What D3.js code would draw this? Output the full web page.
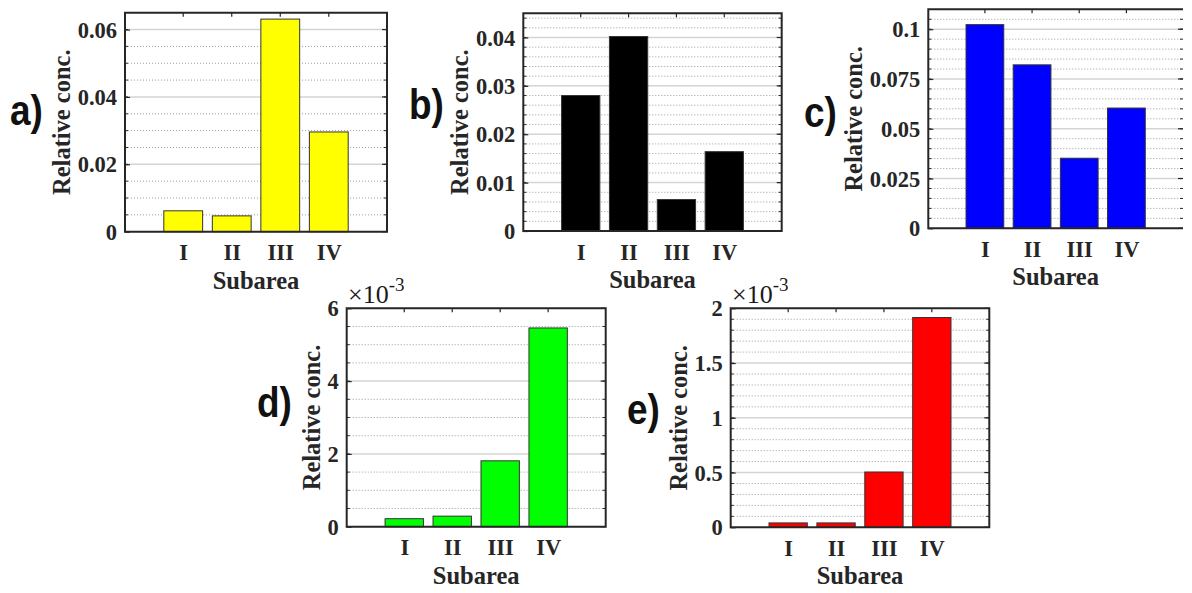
<!DOCTYPE html>
<html>
<head>
<meta charset="utf-8">
<script src="https://cdn.jsdelivr.net/npm/d3@7"></script>
<style>
  html, body { margin: 0; padding: 0; background: #fff; }
  svg { display: block; }
</style>
</head>
<body>
<svg id="chart" width="1192" height="593"></svg>
<script>
// Relative concentration per subarea for five components (a–e)
const categories = ["I", "II", "III", "IV"];

const valuesA = [0.0062, 0.0047, 0.0631, 0.0296];
const valuesB = [0.0280, 0.0402, 0.0065, 0.0164];
const valuesC = [0.1023, 0.0821, 0.0352, 0.0604];
const valuesD = [0.00022, 0.00029, 0.00181, 0.00546];
const valuesE = [0.00004, 0.00004, 0.000505, 0.001916];

const ticksA = [0, 0.02, 0.04, 0.06];
const ticksB = [0, 0.01, 0.02, 0.03, 0.04];
const ticksC = [0, 0.025, 0.05, 0.075, 0.1];
const ticksD = [0, 0.002, 0.004, 0.006];
const ticksE = [0, 0.0005, 0.001, 0.0015, 0.002];

const tickLabelsA = ["0", "0.02", "0.04", "0.06"];
const tickLabelsB = ["0", "0.01", "0.02", "0.03", "0.04"];
const tickLabelsC = ["0", "0.025", "0.05", "0.075", "0.1"];
const tickLabelsD = ["0", "2", "4", "6"];
const tickLabelsE = ["0", "0.5", "1", "1.5", "2"];

const xLabel = "Subarea";
const yLabel = "Relative conc.";

// Layout of each subplot: axes box [left, top, right, bottom], y limit, minor step
const panels = [
  { letter: "a)", values: valuesA, color: "#ffff00", yMax: 0.065, ticks: ticksA, labels: tickLabelsA,
    minor: 0.005, box: [125, 12.7, 387, 231.7], lx: 10, ly: 125, ylx: 70, exp: null, right: true },
  { letter: "b)", values: valuesB, color: "#000000", yMax: 0.045, ticks: ticksB, labels: tickLabelsB,
    minor: 0.002, box: [523.3, 13.3, 781.7, 231], lx: 409, ly: 119, ylx: 468.3, exp: null, right: true },
  { letter: "c)", values: valuesC, color: "#0000ff", yMax: 0.11, ticks: ticksC, labels: tickLabelsC,
    minor: 0.005, box: [928.3, 9.3, 1183, 228.3], lx: 804, ly: 127, ylx: 861.7, exp: null, right: false },
  { letter: "d)", values: valuesD, color: "#00ff00", yMax: 0.006, ticks: ticksD, labels: tickLabelsD,
    minor: 0.0005, box: [346.7, 308.3, 605.7, 526.7], lx: 257, ly: 417, ylx: 320, exp: [348, 302.7], right: true },
  { letter: "e)", values: valuesE, color: "#ff0000", yMax: 0.002, ticks: ticksE, labels: tickLabelsE,
    minor: 0.0001, box: [730.7, 308.3, 989.3, 527.3], lx: 627, ly: 423.5, ylx: 687.3, exp: [732, 302.7], right: true }
];

const serif = "'Liberation Serif', 'Times New Roman', serif";
const sans = "'Liberation Sans', Arial, sans-serif";
const axisColor = "#262626";

const svg = d3.select("#chart");

panels.forEach(p => {
  const [L, T, R, B] = p.box;
  const x = d3.scaleLinear().domain([-0.2, 5.2]).range([L, R]);
  const y = d3.scaleLinear().domain([0, p.yMax]).range([B, T]);
  const g = svg.append("g");

  // minor grid (dotted)
  const nMinor = Math.round(p.yMax / p.minor);
  const minorVals = d3.range(1, nMinor + 1).map(i => i * p.minor)
    .filter(v => v < p.yMax - 1e-12 && !p.ticks.some(t => Math.abs(t - v) < p.minor * 0.01));
  g.append("g").selectAll("line").data(minorVals).join("line")
    .attr("x1", L).attr("x2", R)
    .attr("y1", d => y(d)).attr("y2", d => y(d))
    .attr("stroke", "#9a9a9a").attr("stroke-width", 1)
    .attr("stroke-dasharray", "1,2");

  // major grid (solid, light)
  g.append("g").selectAll("line").data(p.ticks.filter(t => t > 0 && t < p.yMax - 1e-12)).join("line")
    .attr("x1", L).attr("x2", R)
    .attr("y1", d => y(d)).attr("y2", d => y(d))
    .attr("stroke", "#d4d4d4").attr("stroke-width", 1.5);

  // bars
  const bw = 0.8;
  g.append("g").selectAll("rect").data(p.values).join("rect")
    .attr("x", (d, i) => x(i + 1 - bw / 2))
    .attr("width", (d, i) => x(i + 1 + bw / 2) - x(i + 1 - bw / 2))
    .attr("y", d => y(d))
    .attr("height", d => y(0) - y(d))
    .attr("fill", p.color)
    .attr("stroke", "#333").attr("stroke-width", 1);

  // y axis (left) with tick labels
  const yAxis = d3.axisLeft(y).tickValues(p.ticks)
    .tickFormat((d, i) => p.labels[i]).tickSize(-5).tickPadding(8);
  const ya = g.append("g").attr("transform", `translate(${L},0)`).call(yAxis);
  ya.select(".domain").remove();
  ya.selectAll(".tick line").attr("stroke", axisColor).attr("stroke-width", 1.2);
  ya.selectAll(".tick text").attr("font-family", serif).attr("font-weight", "bold")
    .attr("font-size", 22.5).attr("fill", "#262626").attr("dy", "0.34em");

  // minor ticks on left and right edges
  const minorAll = d3.range(1, nMinor).map(i => i * p.minor);
  g.append("g").selectAll("line").data(minorAll).join("line")
    .attr("x1", L).attr("x2", L + 3)
    .attr("y1", d => y(d)).attr("y2", d => y(d))
    .attr("stroke", axisColor).attr("stroke-width", 1);
  g.append("g").selectAll("line").data(minorAll).join("line")
    .attr("x1", R).attr("x2", R - 3)
    .attr("y1", d => y(d)).attr("y2", d => y(d))
    .attr("stroke", axisColor).attr("stroke-width", 1);
  g.append("g").selectAll("line").data(p.ticks).join("line")
    .attr("x1", R).attr("x2", R - 5)
    .attr("y1", d => y(d)).attr("y2", d => y(d))
    .attr("stroke", axisColor).attr("stroke-width", 1.2);

  // x axis (bottom) category labels and top ticks
  const xAxis = d3.axisBottom(x).tickValues([1, 2, 3, 4])
    .tickFormat((d, i) => categories[i]).tickSize(0).tickPadding(0);
  const xa = g.append("g").attr("transform", `translate(0,${B})`).call(xAxis);
  xa.select(".domain").remove();
  xa.selectAll(".tick text").attr("font-family", serif).attr("font-weight", "bold")
    .attr("font-size", 22.5).attr("fill", "#262626").attr("y", 28.5).attr("dy", 0);
  g.append("g").selectAll("line").data([1, 2, 3, 4]).join("line")
    .attr("x1", d => x(d)).attr("x2", d => x(d))
    .attr("y1", T).attr("y2", T + 4)
    .attr("stroke", axisColor).attr("stroke-width", 1.2);

  // axes box
  const boxPath = p.right
    ? `M${L},${B}L${L},${T}L${R},${T}L${R},${B}Z`
    : `M${R},${T}L${L},${T}L${L},${B}L${R},${B}`;
  g.append("path").attr("d", boxPath).attr("fill", "none")
    .attr("stroke", axisColor).attr("stroke-width", 2);

  // axis titles
  g.append("text").attr("x", (L + R) / 2).attr("y", B + 57)
    .attr("text-anchor", "middle").attr("font-family", serif).attr("font-weight", "bold")
    .attr("font-size", 24.5).attr("fill", "#262626").text(xLabel);
  g.append("text")
    .attr("transform", `translate(${p.ylx},${(T + B) / 2}) rotate(-90)`)
    .attr("text-anchor", "middle").attr("font-family", serif).attr("font-weight", "bold")
    .attr("font-size", 24.5).attr("fill", "#262626").text(yLabel);

  // exponent marker
  if (p.exp) {
    const t = g.append("text").attr("x", p.exp[0]).attr("y", p.exp[1])
      .attr("font-family", serif).attr("font-size", 26).attr("fill", "#1a1a1a");
    t.append("tspan").text("\u00d710");
    t.append("tspan").attr("dy", -12).attr("font-size", 19).text("-3");
  }

  // panel letter
  g.append("text")
    .attr("transform", `translate(${p.lx},${p.ly}) scale(0.86,1)`)
    .attr("font-family", sans).attr("font-weight", "bold").attr("font-size", 43)
    .attr("fill", "#111").text(p.letter);
});
</script>
</body>
</html>
